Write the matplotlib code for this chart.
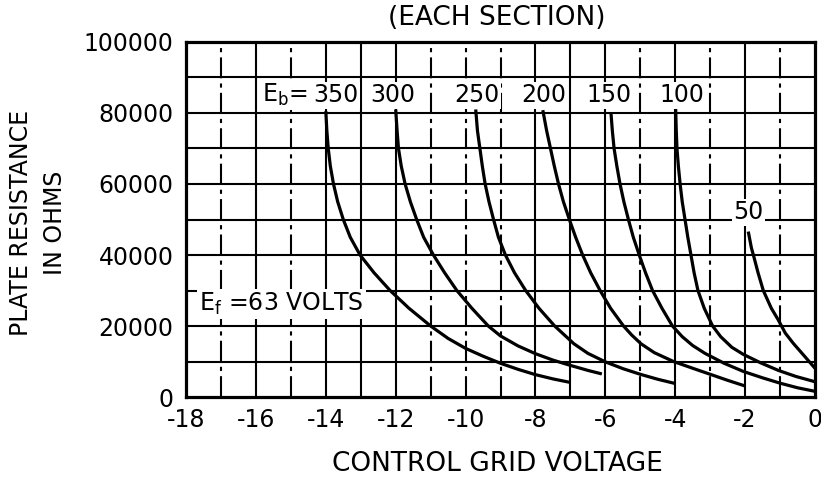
"""Plate resistance vs control grid voltage, redrawn from a tube data sheet."""

import matplotlib

matplotlib.use("Agg")
import matplotlib.pyplot as plt

plt.rcParams["font.family"] = ["DejaVu Sans"]

# curves: grid volts, plate resistance in kilo-ohms
eg_350 = [-14.0, -13.97, -13.93, -13.87, -13.78, -13.66, -13.5, -13.3, -13.02,
          -12.62, -12.16, -11.62, -11.0, -10.5, -10.0, -9.5, -9.0, -8.5, -8.0,
          -7.5, -7.0]
rp_350 = [80.5, 75, 70, 65, 60, 55, 50, 45, 40, 35, 30, 25, 20, 16.5, 13.7,
          11.5, 9.5, 7.8, 6.3, 5.1, 4.1]

eg_300 = [-12.0, -11.96, -11.92, -11.84, -11.73, -11.58, -11.4, -11.2, -10.92,
          -10.6, -10.25, -9.82, -9.35, -9.0, -8.5, -8.0, -7.5, -7.0, -6.5,
          -6.1]
rp_300 = [81, 75, 70, 65, 60, 55, 50, 45, 40, 35, 30, 25, 20, 17.2, 14.4,
          12.2, 10.4, 8.9, 7.5, 6.5]

eg_250 = [-9.71, -9.66, -9.59, -9.52, -9.44, -9.33, -9.2, -9.06, -8.86, -8.6,
          -8.28, -7.9, -7.45, -6.9, -6.5, -6.0, -5.5, -5.0, -4.5, -4.0]
rp_250 = [81, 75, 70, 65, 60, 55, 50, 45, 40, 35, 30, 25, 20, 15, 12.3, 9.9,
          8.0, 6.4, 5.0, 3.8]

eg_200 = [-7.79, -7.68, -7.57, -7.46, -7.34, -7.2, -7.03, -6.85, -6.65, -6.42,
          -6.15, -5.85, -5.48, -5.25, -4.98, -4.6, -4.05, -3.5, -3.0, -2.5,
          -2.0]
rp_200 = [80.8, 75, 70, 65, 60, 55, 50, 45, 40, 35, 30, 25, 20, 17.5, 15, 12.5,
          10.0, 8.1, 6.4, 4.7, 3.1]

eg_150 = [-5.84, -5.8, -5.75, -5.67, -5.58, -5.47, -5.34, -5.2, -5.03, -4.85,
          -4.65, -4.38, -4.08, -3.8, -3.5, -3.15, -2.6, -2.05, -1.5, -1.0,
          -0.5, 0.0]
rp_150 = [80.1, 75, 70, 65, 60, 55, 50, 45, 40, 35, 30, 25, 20, 17, 14.5, 12.3,
          9.5, 7.2, 5.4, 3.9, 2.6, 1.6]

eg_100 = [-3.99, -3.97, -3.95, -3.91, -3.86, -3.8, -3.72, -3.64, -3.55, -3.46,
          -3.35, -3.17, -2.93, -2.7, -2.38, -2.05, -1.55, -1.05, -0.55, 0.0]
rp_100 = [82, 75, 70, 65, 60, 55, 50, 45, 40, 35, 30, 25, 20, 17, 14, 12.0,
          9.6, 7.5, 5.8, 4.3]

eg_50 = [-1.91, -1.82, -1.75, -1.63, -1.48, -1.25, -1.05, -0.85, -0.62, -0.3,
         0.0]
rp_50 = [46.6, 42, 39.5, 35, 30, 25, 21.7, 18, 15.1, 11.5, 8.1]

curves = [
    (eg_350, rp_350), (eg_300, rp_300), (eg_250, rp_250), (eg_200, rp_200),
    (eg_150, rp_150), (eg_100, rp_100), (eg_50, rp_50),
]

# curve labels: text, grid volts at label centre, kilo-ohms
curve_labels = [
    ("350", -13.71, 85),
    ("300", -12.07, 85),
    ("250", -9.67, 85),
    ("200", -7.75, 85),
    ("150", -5.9, 85),
    ("100", -3.8, 85),
    ("50", -1.9, 52),
]

x_ticks = list(range(-18, 1, 2))
y_ticks = list(range(0, 100001, 20000))
dashed_cols = [-17, -15, -11, -10, -9, -5, -3, -1]

fig = plt.figure(figsize=(8.21, 4.86), dpi=100)
fig.patch.set_facecolor("white")
ax = fig.add_axes([0.2266, 0.1831, 0.7661, 0.7305])

ax.set_xlim(-18, 0)
ax.set_ylim(0, 100000)

# the hand-ruled grid, one line per volt and per 10k ohms
for xv in range(-17, 0):
    ls = (0, (10, 2.5, 2, 2.5)) if xv in dashed_cols else "-"
    ax.axvline(xv, color="black", linewidth=1.5, linestyle=ls, zorder=1)
for yv in range(10000, 100000, 10000):
    ax.axhline(yv, color="black", linewidth=1.5, zorder=1)

for eg, rp in curves:
    ax.plot(eg, [r * 1000 for r in rp], color="black", linewidth=2.3,
            solid_capstyle="butt", solid_joinstyle="round", zorder=3)

box = dict(facecolor="white", edgecolor="none", pad=1.0)
for text, xv, yv in curve_labels:
    ax.text(xv, yv * 1000, text, fontsize=17, ha="center", va="center",
            zorder=4, bbox=box)
ax.text(-15.82, 85000, "E$_\\mathregular{b}$=", fontsize=17, ha="left",
        va="center", zorder=4,
        bbox=dict(facecolor="white", edgecolor="none", pad=1.2))

ax.text(-17.62, 26200, "E$_\\mathregular{f}$ =63 VOLTS", fontsize=17,
        ha="left", va="center", zorder=4,
        bbox=dict(facecolor="white", edgecolor="none", pad=1.5))

ax.set_xticks(x_ticks)
ax.set_xticklabels([str(v) for v in x_ticks])
ax.set_yticks(y_ticks)
ax.set_yticklabels([str(v) for v in y_ticks])
ax.tick_params(axis="x", length=0, labelsize=17, pad=8)
ax.tick_params(axis="y", length=0, labelsize=17, pad=9)

for sp in ax.spines.values():
    sp.set_linewidth(2.3)
    sp.set_zorder(5)

fig.text(0.605, 0.962, "(EACH SECTION)", fontsize=19, ha="center",
         va="center")
fig.text(0.606, 0.045, "CONTROL GRID VOLTAGE", fontsize=19, ha="center",
         va="center")
fig.text(0.026, 0.541, "PLATE RESISTANCE", fontsize=17, ha="center",
         va="center", rotation=90)
fig.text(0.067, 0.541, "IN OHMS", fontsize=17, ha="center", va="center",
         rotation=90)

fig.savefig("out.png", dpi=100, facecolor="white")
